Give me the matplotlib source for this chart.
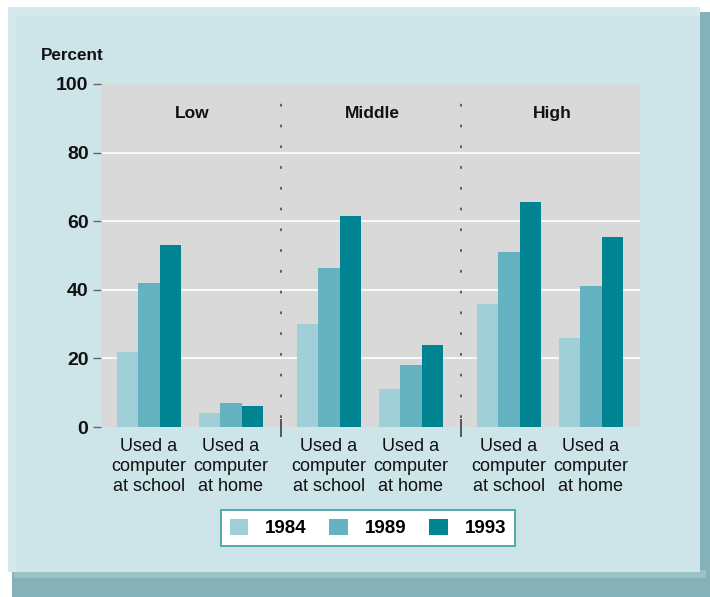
import matplotlib
matplotlib.use("Agg")
import matplotlib.pyplot as plt
from matplotlib.patches import Rectangle, Patch

# datos
grupos = ["Low", "Middle", "High"]
categorias = ["Used a\ncomputer\nat school", "Used a\ncomputer\nat home"]
anios = ["1984", "1989", "1993"]
colores = ["#a1cfd8", "#65b2c0", "#008491"]

v1984 = [22, 4, 30, 11, 36, 26]
v1989 = [42, 7, 46.5, 18, 51, 41]
v1993 = [53, 6, 61.5, 24, 65.5, 55.5]
series = [v1984, v1989, v1993]

yticks = [0, 20, 40, 60, 80, 100]

# geometria (unidades del eje x)
ancho_grupo = 180
centros_sub = [48, 130]
ancho_barra = 21.5

W, H = 710, 597
fig = plt.figure(figsize=(W / 100, H / 100), dpi=100)
fig.patch.set_facecolor("white")


def rect_px(x0, y0, x1, y1, color, z=0):
    fig.patches.append(Rectangle((x0 / W, 1 - y1 / H), (x1 - x0) / W, (y1 - y0) / H,
                                 transform=fig.transFigure, facecolor=color,
                                 edgecolor="none", zorder=z))


# panel con sombra (detras de los ejes)
rect_px(12, 12, 710, 597, "#84b2b8", -5)
rect_px(14, 570, 706, 578, "#9cc2c7", -4)
rect_px(8, 7, 700, 572, "#d6eaed", -3)
rect_px(16, 16, 700, 572, "#cde4e8", -2)

ax = fig.add_axes([101 / W, 1 - 427 / H, 539 / W, 343 / H])
ax.set_facecolor("#d9d9d9")
ax.set_xlim(0, 3 * ancho_grupo - 1)
ax.set_ylim(0, 100)

xs = []
for g in range(len(grupos)):
    for c in centros_sub:
        xs.append(g * ancho_grupo + c)

for i, (vals, col) in enumerate(zip(series, colores)):
    pos = [x + (i - 1) * ancho_barra for x in xs]
    ax.bar(pos, vals, width=ancho_barra, color=col, edgecolor="none", zorder=3)

for y in yticks[1:-1]:
    ax.axhline(y, color="white", lw=1.2, zorder=1)

for g in range(1, len(grupos)):
    xd = g * ancho_grupo
    ax.plot([xd, xd], [2.5, 98], color="#555555", lw=1.3,
            linestyle=(0, (1.5, 10)), zorder=4)
    ax.plot([xd, xd], [2, -2.6], color="#555555", lw=1.4, zorder=4, clip_on=False)

for g, nombre in enumerate(grupos):
    ax.text(g * ancho_grupo + ancho_grupo / 2 + 1, 91.5, nombre, ha="center", va="center",
            fontsize=12.5, fontweight="bold", color="#111111", family="Liberation Sans")

ax.set_xticks(xs)
ax.set_xticklabels(categorias * len(grupos), fontsize=13, color="#111111",
                   family="Liberation Sans")
for lbl in ax.get_xticklabels():
    lbl.set_linespacing(1.22)
ax.tick_params(axis="x", length=0, pad=8)

ax.set_yticks(yticks)
ax.set_yticklabels([str(t) for t in yticks], fontsize=14, fontweight="bold",
                   color="#111111", family="Liberation Sans")
ax.tick_params(axis="y", length=6, color="#666666", width=1, pad=3)

for s in ax.spines.values():
    s.set_visible(False)

fig.text(41 / W, 1 - 56 / H, "Percent", fontsize=12.3, fontweight="bold",
         color="#111111", family="Liberation Sans", va="center", ha="left")

handles = [Patch(facecolor=c, edgecolor="none") for c in colores]
leg = fig.legend(handles, anios, loc="center", bbox_to_anchor=(368 / W, 1 - 528 / H),
                 ncol=3, frameon=True, handlelength=1.0, handleheight=1.0,
                 handletextpad=0.9, columnspacing=1.2, borderpad=0.45,
                 prop={"family": "Liberation Sans", "weight": "bold", "size": 13.5})
leg.get_frame().set_edgecolor("#3a9da8")
leg.get_frame().set_linewidth(1.2)
leg.get_frame().set_facecolor("white")
leg.get_frame().set_alpha(1)
leg.get_frame().set_boxstyle("square", pad=0)

fig.savefig("out.png", dpi=100)
